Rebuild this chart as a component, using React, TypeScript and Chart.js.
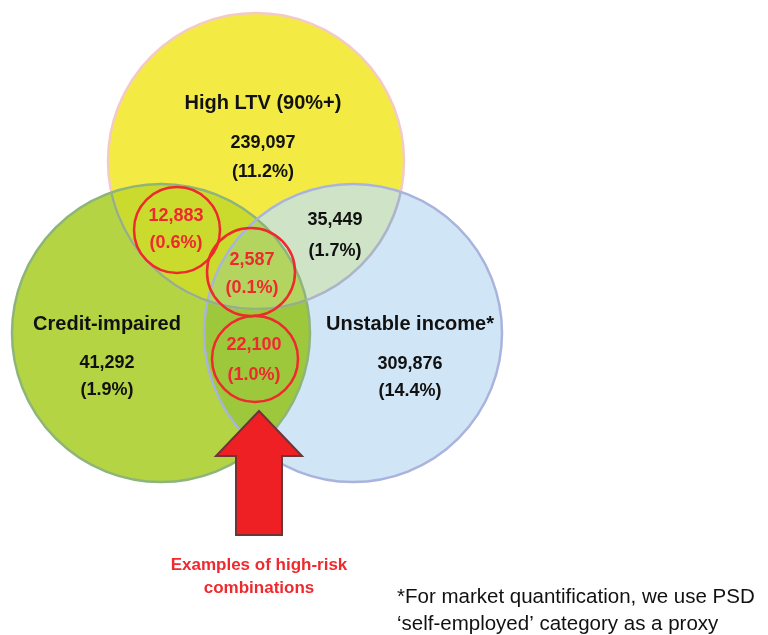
import React, { useEffect, useRef } from "react";
import { Chart, registerables } from "chart.js";

Chart.register(...registerables);

// ---- data ----
const setNames = ["High LTV (90%+)", "Credit-impaired", "Unstable income*"];
const setCounts = ["239,097", "41,292", "309,876"];
const setShares = ["(11.2%)", "(1.9%)", "(14.4%)"];

const overlapNames = ["High LTV + Credit-impaired", "High LTV + Unstable income", "Credit-impaired + Unstable income", "All three"];
const overlapCounts = ["12,883", "35,449", "22,100", "2,587"];
const overlapShares = ["(0.6%)", "(1.7%)", "(1.0%)", "(0.1%)"];
const overlapHighlighted = [true, false, true, true];

const calloutLines = ["Examples of high-risk", "combinations"];
const footnoteLines = ["*For market quantification, we use PSD", "\u2018self-employed\u2019 category as a proxy"];

// ---- layout (scale units = pixels of a 768x635 canvas) ----
const W = 768;
const H = 635;
const circleLayout = [
  { x: 256, y: 161, r: 148 },
  { x: 161, y: 333, r: 149 },
  { x: 353, y: 333, r: 149 },
];
const setLabelLayout = [
  { x: 263, y: [103, 143, 172] },
  { x: 107, y: [324, 363, 390] },
  { x: 410, y: [324, 364, 391] },
];
const overlapLabelLayout = [
  { x: 176, y: [216, 243] },
  { x: 335, y: [220, 251] },
  { x: 254, y: [345, 375] },
  { x: 252, y: [260, 288] },
];
const highlightLayout = [
  { x: 177, y: 230, r: 43 },
  null,
  { x: 255, y: 359, r: 43 },
  { x: 251, y: 272, r: 44 },
];
const arrowLayout = { tipX: 259, tipY: 411, headY: 456, headHalf: 43, shaftHalf: 23, bottomY: 535 };
const calloutLayout = { x: 259, y: [565, 588] };
const footnoteLayout = { x: 397, y: [597, 624] };

const baseColors = ["#F3EB44", "#B4D443", "#D0E5F6"];
const borderColors = ["#F4CAC4", "#8DB57A", "#A9B3DD"];
const pairColors = { yg: "#CBDB2D", yb: "#CFE4C7", gb: "#9DC83C", ygb: "#B3D560" };
const RED = "#EE2A2E";
const FONT = "'Liberation Sans', Arial, sans-serif";

function circlePath(ctx: CanvasRenderingContext2D, c: { x: number; y: number; r: number }) {
  ctx.beginPath();
  ctx.arc(c.x, c.y, c.r, 0, Math.PI * 2);
}

const vennPlugin = {
  id: "venn",
  beforeDatasetsDraw(chart: any) {
    const meta = chart.getDatasetMeta(0);
    const els = meta.data.map((e: any) => ({ x: e.x, y: e.y, r: e.options.radius }));
    if (els.length < 3) return;
    const [Y, G, B] = els;
    const ctx: CanvasRenderingContext2D = chart.ctx;
    ctx.save();
    [Y, G, B].forEach((c, i) => {
      circlePath(ctx, c);
      ctx.fillStyle = baseColors[i];
      ctx.fill();
    });
    const fillClipped = (clips: any[], target: any, color: string) => {
      ctx.save();
      clips.forEach((c) => {
        circlePath(ctx, c);
        ctx.clip();
      });
      circlePath(ctx, target);
      ctx.fillStyle = color;
      ctx.fill();
      ctx.restore();
    };
    fillClipped([Y], G, pairColors.yg);
    fillClipped([Y], B, pairColors.yb);
    fillClipped([G], B, pairColors.gb);
    fillClipped([Y, G], B, pairColors.ygb);
    ctx.restore();
  },
  afterDatasetDraw(chart: any, args: any) {
    const ctx: CanvasRenderingContext2D = chart.ctx;
    const xs = chart.scales.x;
    const ys = chart.scales.y;
    if (args.index === 0) {
      const els = chart.getDatasetMeta(0).data.map((e: any) => ({ x: e.x, y: e.y, r: e.options.radius }));
      const [Y, G, B] = els;
      ctx.save();
      circlePath(ctx, B);
      ctx.clip();
      circlePath(ctx, Y);
      ctx.strokeStyle = "#A8B6CC";
      ctx.lineWidth = 2.5;
      ctx.stroke();
      ctx.restore();
      ctx.save();
      circlePath(ctx, G);
      ctx.clip();
      circlePath(ctx, Y);
      ctx.strokeStyle = "#93B27E";
      ctx.lineWidth = 2.5;
      ctx.stroke();
      ctx.restore();
    }
    if (args.index === 1) {
      ctx.save();
      ctx.textAlign = "center";
      ctx.textBaseline = "middle";
      setNames.forEach((name, i) => {
        const L = setLabelLayout[i];
        const px = xs.getPixelForValue(L.x);
        ctx.fillStyle = "#111111";
        ctx.font = `bold 20px ${FONT}`;
        ctx.fillText(name, px, ys.getPixelForValue(L.y[0]));
        ctx.font = `bold 18px ${FONT}`;
        ctx.fillText(setCounts[i], px, ys.getPixelForValue(L.y[1]));
        ctx.fillText(setShares[i], px, ys.getPixelForValue(L.y[2]));
      });
      overlapNames.forEach((_n, i) => {
        const L = overlapLabelLayout[i];
        const px = xs.getPixelForValue(L.x);
        ctx.fillStyle = overlapHighlighted[i] ? RED : "#111111";
        ctx.font = `bold 18px ${FONT}`;
        ctx.fillText(overlapCounts[i], px, ys.getPixelForValue(L.y[0]));
        ctx.fillText(overlapShares[i], px, ys.getPixelForValue(L.y[1]));
      });
      const A = arrowLayout;
      const pts = [
        [A.tipX, A.tipY],
        [A.tipX + A.headHalf, A.headY],
        [A.tipX + A.shaftHalf, A.headY],
        [A.tipX + A.shaftHalf, A.bottomY],
        [A.tipX - A.shaftHalf, A.bottomY],
        [A.tipX - A.shaftHalf, A.headY],
        [A.tipX - A.headHalf, A.headY],
      ];
      ctx.beginPath();
      pts.forEach(([x, y], k) => {
        const X = xs.getPixelForValue(x);
        const Yp = ys.getPixelForValue(y);
        if (k === 0) ctx.moveTo(X, Yp);
        else ctx.lineTo(X, Yp);
      });
      ctx.closePath();
      ctx.fillStyle = "#EE2024";
      ctx.fill();
      ctx.strokeStyle = "#6E3537";
      ctx.lineWidth = 2;
      ctx.lineJoin = "miter";
      ctx.stroke();
      ctx.fillStyle = RED;
      ctx.font = `bold 17px ${FONT}`;
      calloutLines.forEach((t, k) => {
        ctx.fillText(t, xs.getPixelForValue(calloutLayout.x), ys.getPixelForValue(calloutLayout.y[k]));
      });
      ctx.textAlign = "left";
      ctx.fillStyle = "#111111";
      ctx.font = `20.5px ${FONT}`;
      footnoteLines.forEach((t, k) => {
        ctx.fillText(t, xs.getPixelForValue(footnoteLayout.x), ys.getPixelForValue(footnoteLayout.y[k]));
      });
      ctx.restore();
    }
  },
};

export default function App() {
  const ref = useRef<HTMLCanvasElement | null>(null);
  useEffect(() => {
    if (!ref.current) return;
    const highlightData = highlightLayout
      .map((h, i) => (h && overlapHighlighted[i] ? { x: h.x, y: h.y, r: h.r } : null))
      .filter(Boolean) as any[];
    const chart = new Chart(ref.current, {
      type: "bubble",
      data: {
        datasets: [
          {
            label: "Segments",
            data: circleLayout.map((c) => ({ x: c.x, y: c.y, r: c.r })),
            backgroundColor: "rgba(0,0,0,0)",
            borderColor: borderColors,
            borderWidth: 2.5,
            hoverRadius: 0,
            order: 2,
            clip: false as any,
          },
          {
            label: "High-risk combinations",
            data: highlightData,
            backgroundColor: "rgba(0,0,0,0)",
            borderColor: "#EE2A2E",
            borderWidth: 2.5,
            hoverRadius: 0,
            order: 1,
            clip: false as any,
          },
        ],
      },
      options: {
        responsive: false,
        animation: false,
        events: [],
        layout: { padding: 0, autoPadding: false },
        plugins: { legend: { display: false }, tooltip: { enabled: false }, title: { display: false } },
        scales: {
          x: { type: "linear", min: 0, max: W, display: false },
          y: { type: "linear", min: 0, max: H, reverse: true, display: false },
        },
      },
      plugins: [vennPlugin],
    });
    return () => chart.destroy();
  }, []);
  return (
    <div style={{ position: "fixed", left: 0, top: 0, width: W, height: H, background: "#ffffff" }}>
      <canvas ref={ref} width={W} height={H} style={{ display: "block", width: W, height: H }} />
    </div>
  );
}
